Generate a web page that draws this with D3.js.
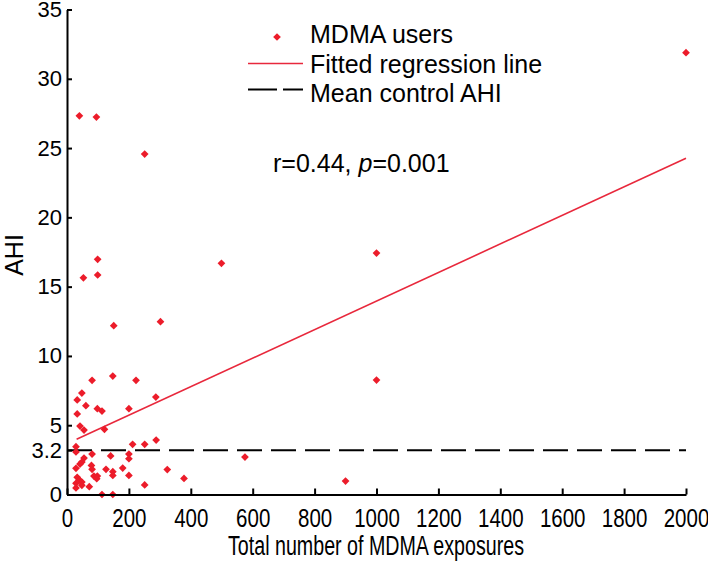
<!DOCTYPE html>
<html>
<head>
<meta charset="utf-8">
<script src="https://cdn.jsdelivr.net/npm/d3@7"></script>
<style>
  html, body { margin: 0; padding: 0; background: #fff; }
  svg { display: block; }
  text { font-family: "Liberation Sans", Arial, Helvetica, sans-serif; fill: #000; }
</style>
</head>
<body>
<svg id="chart" width="708" height="562"></svg>
<script>
// ---- Data ----
const exposures = [148, 81, 223, 48, 33, 61, 98, 113, 287, 200, 33, 42, 55, 121, 29, 212, 251, 288,
  29, 81, 141, 200, 200, 55, 48, 42, 29, 79, 81, 126, 180, 148, 148, 87, 98, 96, 200, 33, 40, 48,
  29, 48, 29, 72, 251, 113, 148, 324, 378, 575, 40, 95, 251, 53, 99, 99, 151, 302, 499, 1000, 1000,
  900, 2000];
const ahi = [8.55, 8.24, 8.24, 7.32, 6.82, 6.41, 6.19, 6.02, 7.03, 6.19, 5.81, 4.94, 4.65, 4.70, 3.45,
  3.62, 3.62, 3.93, 3.07, 2.92, 2.78, 2.92, 2.58, 2.63, 2.34, 2.20, 1.89, 2.10, 1.82, 1.82, 1.91,
  1.65, 1.38, 1.33, 1.33, 1.14, 1.38, 1.24, 1.05, 0.90, 0.81, 0.66, 0.47, 0.56, 0.69, 0, 0, 1.80,
  1.16, 2.70, 27.33, 27.24, 24.57, 15.64, 16.97, 15.84, 12.18, 12.47, 16.68, 17.42, 8.26, 0.97, 31.88];
const fitX = [31, 2000];
const fitY = [3.98, 24.26];
const meanControlX = [0, 2000];
const meanControlAHI = 3.2;
const xTicks = [0, 200, 400, 600, 800, 1000, 1200, 1400, 1600, 1800, 2000];
const yTicks = [0, 3.2, 5, 10, 15, 20, 25, 30, 35];
const legendLabels = ["MDMA users", "Fitted regression line", "Mean control AHI"];
const xTitle = "Total number of MDMA exposures";
const yTitle = "AHI";

// ---- Drawing ----
const svg = d3.select("#chart");
const red = "#ec1c2a";
const lineRed = "#e8283c";

const x = d3.scaleLinear().domain([0, 2000]).range([67, 686]);
const y = d3.scaleLinear().domain([0, 35]).range([494.5, 9.5]);

// mean control line
svg.append("line")
  .attr("x1", x(meanControlX[0])).attr("x2", x(meanControlX[1]))
  .attr("y1", y(meanControlAHI)).attr("y2", y(meanControlAHI))
  .attr("stroke", "#000").attr("stroke-width", 2)
  .attr("stroke-dasharray", "25,9");

// regression line
svg.append("path")
  .datum(fitX.map((v, i) => [v, fitY[i]]))
  .attr("d", d3.line().x(d => x(d[0])).y(d => y(d[1])))
  .attr("fill", "none").attr("stroke", lineRed).attr("stroke-width", 1.6);

// points
const sym = d3.symbol().type(d3.symbolSquare).size(30);
svg.append("g").selectAll("path")
  .data(exposures.map((v, i) => [v, ahi[i]]))
  .join("path")
  .attr("d", sym)
  .attr("transform", d => `translate(${x(d[0])},${y(d[1])}) rotate(45)`)
  .attr("fill", red);

// axes
const xAxis = d3.axisBottom(x).tickValues(xTicks).tickSizeInner(-6).tickSizeOuter(0)
  .tickFormat(d3.format("d"));
const gx = svg.append("g").attr("transform", `translate(0,${y(0)})`).call(xAxis);
gx.select(".domain").attr("stroke", "#000").attr("stroke-width", 2);
gx.selectAll(".tick line").attr("stroke", "#000").attr("stroke-width", 2);
gx.selectAll(".tick text").attr("font-size", 26).attr("y", 32).attr("dy", null)
  .attr("textLength", d => String(d).length * 11.4).attr("lengthAdjust", "spacingAndGlyphs")
  .style("font-family", '"Liberation Sans", Arial, sans-serif');

const yAxis = d3.axisLeft(y).tickValues(yTicks).tickSizeInner(-5).tickSizeOuter(0)
  .tickFormat(d => d === 3.2 ? "3.2" : d3.format("d")(d));
const gy = svg.append("g").attr("transform", `translate(${x(0)},0)`).call(yAxis);
gy.select(".domain").attr("stroke", "#000").attr("stroke-width", 2);
gy.selectAll(".tick line").attr("stroke", "#000").attr("stroke-width", 2);
gy.selectAll(".tick text").attr("font-size", 22).attr("x", -5)
  .style("font-family", '"Liberation Sans", Arial, sans-serif');

// axis titles
svg.append("text").attr("x", 376).attr("y", 555).attr("text-anchor", "middle")
  .attr("font-size", 27).attr("textLength", 296).attr("lengthAdjust", "spacingAndGlyphs")
  .text(xTitle);
svg.append("text").attr("transform", "translate(23,255) rotate(-90)")
  .attr("text-anchor", "middle").attr("font-size", 25).text(yTitle);

// legend
const lg = svg.append("g");
lg.append("path").attr("d", sym).attr("transform", "translate(277,37) rotate(45)").attr("fill", red);
lg.append("line").attr("x1", 248).attr("x2", 303).attr("y1", 63.5).attr("y2", 63.5)
  .attr("stroke", lineRed).attr("stroke-width", 1.6);
lg.append("line").attr("x1", 248).attr("x2", 303).attr("y1", 89.5).attr("y2", 89.5)
  .attr("stroke", "#000").attr("stroke-width", 2).attr("stroke-dasharray", "29,6");
lg.selectAll("text.lab").data(legendLabels).join("text").attr("class", "lab")
  .attr("x", 310).attr("y", (d, i) => 43 + i * 29.5).attr("font-size", 25).text(d => d);

// statistics annotation
const st = svg.append("text").attr("x", 273).attr("y", 172).attr("font-size", 25);
st.append("tspan").text("r=0.44, ");
st.append("tspan").attr("font-style", "italic").text("p");
st.append("tspan").text("=0.001");
</script>
</body>
</html>
